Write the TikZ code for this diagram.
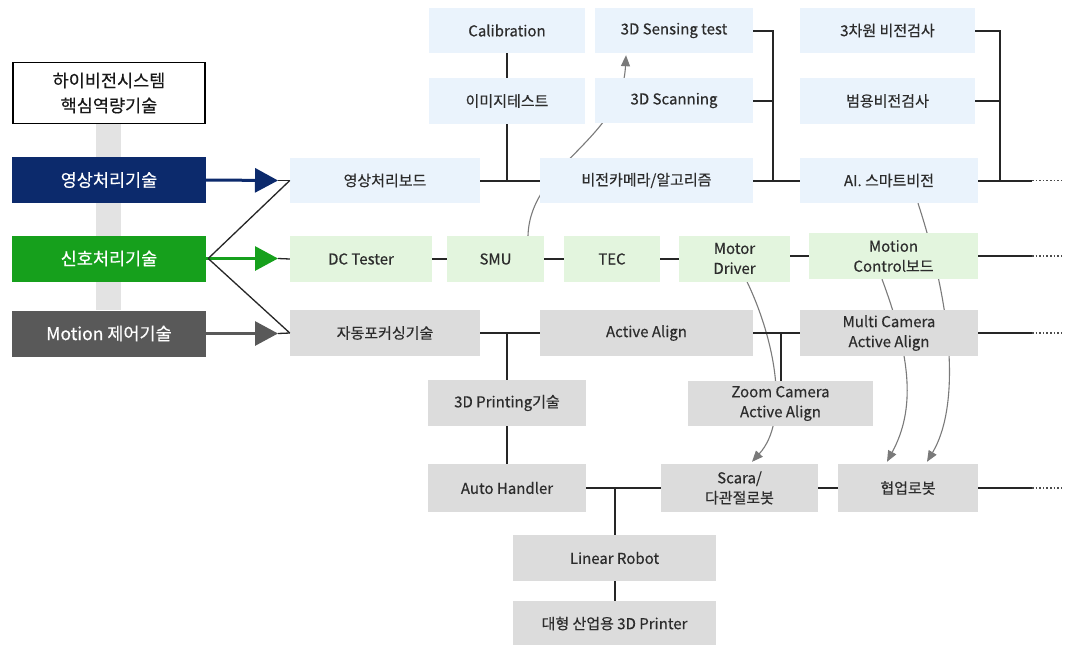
\documentclass[tikz,border=0pt]{standalone}
\usepackage{fontspec}
\setmainfont{Noto Sans CJK KR}[FakeBold=0.35]
\usetikzlibrary{arrows.meta,calc}
\definecolor{cNavy}{HTML}{0C2A6C}
\definecolor{cGreen}{HTML}{16A01C}
\definecolor{cDark}{HTML}{595959}
\definecolor{cBar}{HTML}{E3E3E3}
\definecolor{cBlue}{HTML}{EAF3FC}
\definecolor{cLGreen}{HTML}{E3F5DE}
\definecolor{cLGrey}{HTML}{DCDCDC}
\definecolor{cText}{HTML}{2C2C2C}
\definecolor{cCurve}{HTML}{7A7A7A}
\pgfdeclarelayer{bg}
\pgfsetlayers{bg,main}
\begin{document}
\begin{tikzpicture}[x=1pt,y=-1pt,
  box/.style={draw=none, inner sep=0pt, text=cText, font=\fontsize{15}{20}\selectfont, align=center},
  bluebox/.style={box, fill=cBlue},
  greenbox/.style={box, fill=cLGreen},
  greybox/.style={box, fill=cLGrey},
  mainbox/.style={draw=none, inner sep=0pt, text=white, font=\fontsize{17.5}{20}\selectfont, minimum width=194pt, minimum height=46pt},
  conn/.style={draw=black!85, line width=2pt},
  thin/.style={draw=black!85, line width=1.3pt},
  bigarrow/.style={line width=3pt, -{Triangle[length=23pt,width=24pt]}},
  curvearrow/.style={draw=cCurve, line width=1.1pt, -{Triangle[length=11pt,width=9pt]}},
  dotend/.style={draw=black!70, line width=1.6pt, dotted}
]
\useasboundingbox (0,0) rectangle (1068,645);

% left column
\fill[cBar] (96,124) rectangle (121,310);
\node[draw=black, line width=1.2pt, fill=white, inner sep=0pt, minimum width=192pt, minimum height=61pt,
      align=center, font=\fontsize{17.5}{25}\selectfont, text=black!90] (title) at (109,93) {하이비전시스템\\핵심역량기술};
\node[mainbox, fill=cNavy] (img) at (109,180) {영상처리기술};
\node[mainbox, fill=cGreen] (sig) at (109,258.5) {신호처리기술};
\node[mainbox, fill=cDark] (mot) at (109,333.5) {Motion 제어기술};

% row: blue
\node[bluebox, minimum width=156pt, minimum height=45pt] (calib) at (507,30.5) {Calibration};
\node[bluebox, minimum width=156pt, minimum height=46pt] (imgtest) at (507,101) {이미지테스트};
\node[bluebox, minimum width=158pt, minimum height=45pt] (sens) at (674,30.5) {3D Sensing test};
\node[bluebox, minimum width=158pt, minimum height=45pt] (scan) at (674,100.5) {3D Scanning};
\node[bluebox, minimum width=190pt, minimum height=45pt] (board) at (385,180.5) {영상처리보드};
\node[bluebox, minimum width=213pt, minimum height=45pt] (vcam) at (646.5,180.5) {비전카메라/알고리즘};
\node[bluebox, minimum width=175pt, minimum height=45pt] (v3d) at (887.5,30.5) {3차원 비전검사};
\node[bluebox, minimum width=175pt, minimum height=46pt] (vgen) at (887.5,101) {범용비전검사};
\node[bluebox, minimum width=178pt, minimum height=45pt] (ai) at (889,180.5) {AI. 스마트비전};

% row: green
\node[greenbox, minimum width=142pt, minimum height=46pt] (dct) at (361,259) {DC Tester};
\node[greenbox, minimum width=97pt, minimum height=46pt] (smu) at (495.5,259) {SMU};
\node[greenbox, minimum width=96pt, minimum height=46pt] (tec) at (612,259) {TEC};
\node[greenbox, minimum width=111pt, minimum height=46pt] (mdrv) at (734.5,258.5) {Motor\\Driver};
\node[greenbox, minimum width=169pt, minimum height=46pt] (mctl) at (893.5,256) {Motion\\Control보드};

% row: grey
\node[greybox, minimum width=190pt, minimum height=46pt] (afocus) at (385,333) {자동포커싱기술};
\node[greybox, minimum width=213pt, minimum height=46pt] (aa) at (646.5,333) {Active Align};
\node[greybox, minimum width=178pt, minimum height=46pt] (mcaa) at (889,333) {Multi Camera\\Active Align};
\node[greybox, minimum width=158pt, minimum height=46pt] (print) at (507,403) {3D Printing기술};
\node[greybox, minimum width=185pt, minimum height=45pt] (zcaa) at (780.5,403.5) {Zoom Camera\\Active Align};
\node[greybox, minimum width=158pt, minimum height=48pt] (ahand) at (507,488) {Auto Handler};
\node[greybox, minimum width=157pt, minimum height=48pt] (scara) at (739.5,488) {Scara/\\다관절로봇};
\node[greybox, minimum width=140pt, minimum height=48pt] (cobot) at (908,488) {협업로봇};
\node[greybox, minimum width=203pt, minimum height=46pt] (linear) at (614.5,558) {Linear Robot};
\node[greybox, minimum width=203pt, minimum height=45pt] (bigprint) at (614.5,623.5) {대형 산업용 3D Printer};

% coordinates
\coordinate (tipA) at (278,180.5);
\coordinate (tipB) at (278,258.5);
\coordinate (tipC) at (278,333.5);
\coordinate (j1) at (773,180.5);
\coordinate (j2) at (1000,180.5);
\coordinate (e1) at (1032,180.5);
\coordinate (f1) at (1062,180.5);
\coordinate (e2) at (1032,256);
\coordinate (f2) at (1062,256);
\coordinate (e3) at (1032,333);
\coordinate (f3) at (1062,333);
\coordinate (e4) at (1032,488);
\coordinate (f4) at (1062,488);

% left arrows
\draw[bigarrow, cNavy] (img.east) -- (tipA);
\draw[bigarrow, cGreen] (sig.east) -- (tipB);
\draw[bigarrow, cDark] (mot.east) -- (tipC);
\draw[thin] (tipA) -- (board.west);
\draw[thin] (tipB) -- (dct.west);
\draw[thin] (tipC) -- (afocus.west);
\draw[thin] ([xshift=2pt]sig.east) -- (board.west);
\draw[thin] ([xshift=2pt]sig.east) -- (afocus.west);

% blue connectors
\draw[conn] (calib.south) -- (imgtest.north);
\draw[conn] (board.east) -- (vcam.west);
\draw[conn] (imgtest.south) -- (imgtest.south |- board.east);
\draw[conn] (sens.east) -| (j1);
\draw[conn] (scan.east) -- (scan.east -| j1);
\draw[conn] (vcam.east) -- (ai.west);
\draw[conn] (v3d.east) -| (j2);
\draw[conn] (vgen.east) -- (vgen.east -| j2);
\draw[conn] (ai.east) -- (e1);
\draw[dotend] (e1) -- (f1);

% green connectors
\draw[conn] (dct.east) -- (smu.west);
\draw[conn] (smu.east) -- (tec.west);
\draw[conn] (tec.east) -- (tec.east -| mdrv.west);
\draw[conn] (mdrv.east |- mctl.west) -- (mctl.west);
\draw[conn] (mctl.east) -- (e2);
\draw[dotend] (e2) -- (f2);

% grey connectors
\draw[conn] (afocus.east) -- (aa.west);
\draw[conn] (print.north) -- (print.north |- afocus.east);
\draw[conn] (print.south) -- (ahand.north);
\draw[conn] (aa.east) -- (mcaa.west);
\draw[conn] (zcaa.north) -- (zcaa.north |- aa.east);
\draw[conn] (mcaa.east) -- (e3);
\draw[dotend] (e3) -- (f3);
\draw[conn] (ahand.east) -- (scara.west);
\draw[conn] (linear.north) -- (linear.north |- ahand.east);
\draw[conn] (linear.south) -- (bigprint.north);
\draw[conn] (scara.east) -- (cobot.west);
\draw[conn] (cobot.east) -- (e4);
\draw[dotend] (e4) -- (f4);

% curved grey arrows behind boxes
\begin{pgfonlayer}{bg}
\fill[white] (0,0) rectangle (1068,645);
\draw[curvearrow] ([xshift=32.5pt]smu.north) .. controls (530,165) and (622,140) .. ([xshift=-48pt,yshift=-2pt]sens.south);
\draw[curvearrow] ([xshift=29pt]ai.south) .. controls (956,320) and (958,410) .. ([xshift=19pt,yshift=2pt]cobot.north);
\draw[curvearrow] ([xshift=-11.5pt]mctl.south) .. controls (912,360) and (915,410) .. ([xshift=-21pt,yshift=2pt]cobot.north);
\draw[curvearrow] ([xshift=12.5pt]mdrv.south) .. controls (775,340) and (790,420) .. ([xshift=12.5pt,yshift=2pt]scara.north);
\end{pgfonlayer}
\end{tikzpicture}
\end{document}
